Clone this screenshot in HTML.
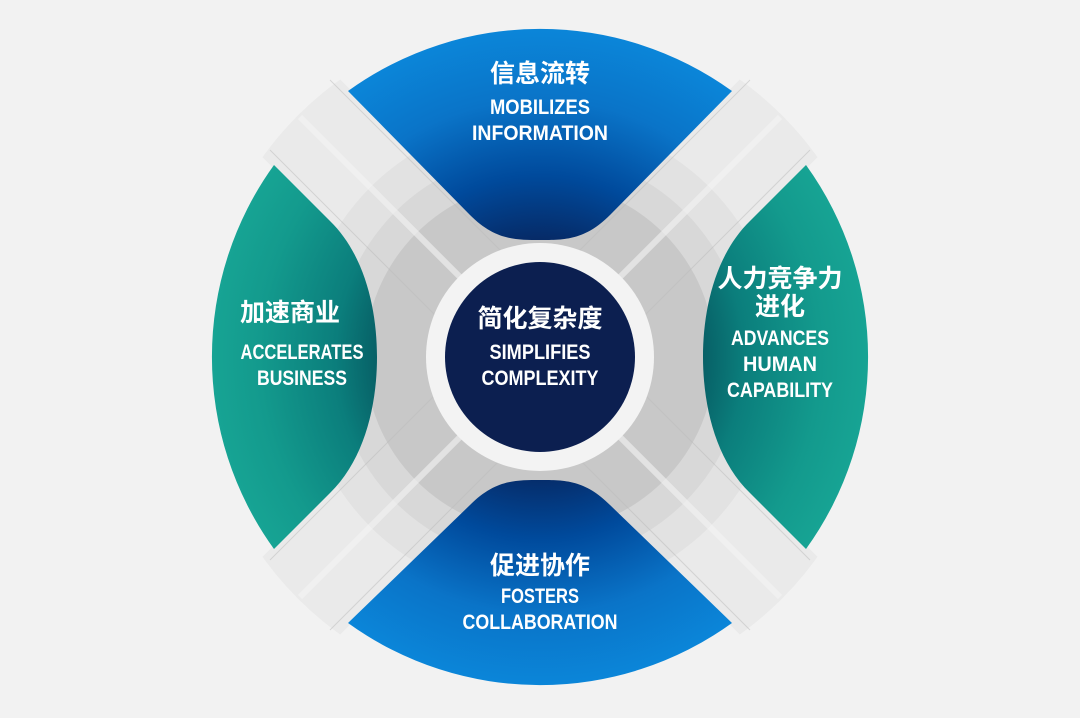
<!DOCTYPE html>
<html><head><meta charset="utf-8"><style>
html,body{margin:0;padding:0;background:#f2f2f2;}
svg{display:block}
text{font-family:"Liberation Sans","Noto Sans CJK SC",sans-serif;font-weight:bold;fill:#fff;text-anchor:middle}
.cn{font-size:25px}
.en{font-size:21px}
</style></head><body>
<svg width="1080" height="718" viewBox="0 0 1080 718" xmlns="http://www.w3.org/2000/svg">
<defs>
<radialGradient id="bl" cx="540" cy="357" r="330" gradientUnits="userSpaceOnUse">
<stop offset="0.35" stop-color="#062a66"/><stop offset="0.55" stop-color="#004a9c"/><stop offset="0.78" stop-color="#0a74c8"/><stop offset="1" stop-color="#0b86d9"/></radialGradient>
<radialGradient id="tl" cx="540" cy="357" r="330" gradientUnits="userSpaceOnUse">
<stop offset="0.45" stop-color="#06565f"/><stop offset="0.62" stop-color="#0b7e7c"/><stop offset="0.85" stop-color="#139a8d"/><stop offset="1" stop-color="#17a494"/></radialGradient>
<clipPath id="cc"><circle cx="540" cy="357" r="342"/></clipPath>
</defs>
<rect width="1080" height="718" fill="#f2f2f2"/>
<g clip-path="url(#cc)">
<rect x="190" y="302" width="700" height="110" fill="#eaeaea" transform="rotate(45 540 357)"/>
<rect x="190" y="302" width="700" height="110" fill="#eaeaea" transform="rotate(-45 540 357)"/>
</g>
<circle cx="540" cy="357" r="240" fill="#e2e2e2"/>
<circle cx="540" cy="357" r="205" fill="#d8d8d8"/>
<circle cx="540" cy="357" r="175" fill="#c8c8c8"/>
<g stroke="#f4f4f4" stroke-width="6" opacity="0.6">
<line x1="300" y1="117" x2="780" y2="597"/><line x1="300" y1="597" x2="780" y2="117"/>
</g>
<g stroke="#bbb" stroke-width="1" opacity="0.5">
<line x1="330" y1="80" x2="810" y2="560"/><line x1="270" y1="150" x2="750" y2="630"/>
<line x1="270" y1="560" x2="750" y2="80"/><line x1="330" y1="630" x2="810" y2="150"/>
</g>
<path d="M348,91 A328 328 0 0 1 732,91 L610,215 C585,240 565,240 540,240 C515,240 495,240 470,215 Z" fill="url(#bl)"/>
<path d="M348,623 A328 328 0 0 0 732,623 L610,505 C585,480 565,480 540,480 C515,480 495,480 470,505 Z" fill="url(#bl)"/>
<path d="M274,165 A328 328 0 0 0 274,549 L330,493 C365,459 377,404 377,357 C377,310 365,255 330,221 Z" fill="url(#tl)"/>
<path d="M806,165 A328 328 0 0 1 806,549 L750,493 C715,459 703,404 703,357 C703,310 715,255 750,221 Z" fill="url(#tl)"/>
<circle cx="540" cy="357" r="114" fill="#f3f3f3"/>
<circle cx="540" cy="357" r="95" fill="#0c1f50"/>
<text class="cn" x="540" y="82">信息流转</text>
<text class="en" x="540" y="114" textLength="100" lengthAdjust="spacingAndGlyphs">MOBILIZES</text>
<text class="en" x="540" y="140" textLength="136" lengthAdjust="spacingAndGlyphs">INFORMATION</text>
<text class="cn" x="290" y="321">加速商业</text>
<text class="en" x="302" y="359" textLength="123" lengthAdjust="spacingAndGlyphs">ACCELERATES</text>
<text class="en" x="302" y="385" textLength="90" lengthAdjust="spacingAndGlyphs">BUSINESS</text>
<text class="cn" x="780" y="287">人力竞争力</text>
<text class="cn" x="780" y="315">进化</text>
<text class="en" x="780" y="345" textLength="98" lengthAdjust="spacingAndGlyphs">ADVANCES</text>
<text class="en" x="780" y="371" textLength="74" lengthAdjust="spacingAndGlyphs">HUMAN</text>
<text class="en" x="780" y="397" textLength="106" lengthAdjust="spacingAndGlyphs">CAPABILITY</text>
<text class="cn" x="540" y="327">简化复杂度</text>
<text class="en" x="540" y="359" textLength="101" lengthAdjust="spacingAndGlyphs">SIMPLIFIES</text>
<text class="en" x="540" y="385" textLength="117" lengthAdjust="spacingAndGlyphs">COMPLEXITY</text>
<text class="cn" x="540" y="574">促进协作</text>
<text class="en" x="540" y="603" textLength="78" lengthAdjust="spacingAndGlyphs">FOSTERS</text>
<text class="en" x="540" y="629" textLength="155" lengthAdjust="spacingAndGlyphs">COLLABORATION</text>
</svg>
</body></html>
